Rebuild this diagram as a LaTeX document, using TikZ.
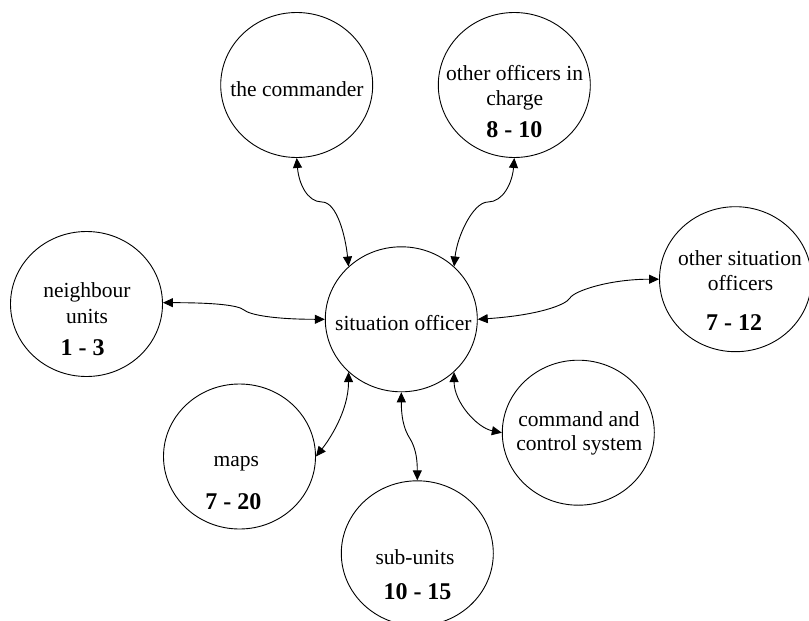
\documentclass[tikz,border=0pt]{standalone}
\usepackage{fontspec}
\setmainfont{Liberation Serif}
\usetikzlibrary{shapes.geometric,arrows.meta}

\tikzset{
  party/.style={draw, ellipse, line width=0.9pt, minimum width=152pt,
    minimum height=145pt, inner sep=0pt},
  lbl/.style={anchor=base, inner sep=0pt,
    font=\fontsize{21.5pt}{24pt}\selectfont},
  num/.style={anchor=base, inner sep=0pt,
    font=\fontsize{24pt}{28pt}\selectfont\bfseries},
  link/.style={draw, line width=0.9pt, <->,
    >={Triangle[length=10pt,width=9pt]}}
}

\begin{document}
\begin{tikzpicture}[x=1pt,y=-1pt]
  \useasboundingbox (0,0) rectangle (809,621);
  \clip (0,0) rectangle (809,621);

  % the circles
  \node[party] (cmd)  at (296.7,85)    {};
  \node[party] (ooc)  at (514.3,85)    {};
  \node[party] (nbr)  at (86.5,304)    {};
  \node[party] (sit)  at (401.3,319.3) {};
  \node[party] (oso)  at (735.5,279.2) {};
  \node[party] (ccs)  at (578.3,432.7) {};
  \node[party] (maps) at (239.5,456.5) {};
  \node[party] (sub)  at (417.3,553.3) {};

  % their texts
  \node[lbl] (cmd-a)  at (297,96)    {the commander};
  \node[lbl] (ooc-a)  at (514.7,80)  {other officers in};
  \node[lbl] (ooc-b)  at (514.7,105) {charge};
  \node[num] (ooc-n)  at (514.3,137.3) {8 - 10};
  \node[lbl] (nbr-a)  at (87,297.7)  {neighbour};
  \node[lbl] (nbr-b)  at (87,323.3)  {units};
  \node[num] (nbr-n)  at (82.7,355.7) {1 - 3};
  \node[lbl] (sit-a)  at (403.3,330) {situation officer};
  \node[lbl] (oso-a)  at (740,265)   {other situation};
  \node[lbl] (oso-b)  at (740.5,290.7) {officers};
  \node[num] (oso-n)  at (734,330.7) {7 - 12};
  \node[lbl] (ccs-a)  at (579,426.7) {command and};
  \node[lbl] (ccs-b)  at (579.3,450.7) {control system};
  \node[lbl] (maps-a) at (236.3,466) {maps};
  \node[num] (maps-n) at (233.3,509.3) {7 - 20};
  \node[lbl] (sub-a)  at (415,564)   {sub-units};
  \node[num] (sub-n)  at (417.5,599.3) {10 - 15};

  % bends of the connectors
  \coordinate (k1) at (322,202);
  \coordinate (k2) at (488,202);
  \coordinate (k3) at (244,310);
  \coordinate (k4) at (570,298);
  \coordinate (k6) at (409,437);

  % connectors
  \draw[link] (cmd.270) .. controls +(2,25) and +(-15,0) .. (k1)
                        .. controls +(15,0) and +(-3,-30) .. (sit.135);
  \draw[link] (ooc.270) .. controls +(-2,25) and +(15,0) .. (k2)
                        .. controls +(-15,0) and +(3,-30) .. (sit.45);
  \draw[link] (nbr.1) .. controls +(50,0) and +(-6,-5) .. (k3)
                      .. controls +(6,5) and +(-50,0) .. (sit.180);
  \draw[link] (sit.0) .. controls +(60,-4) and +(-4,7) .. (k4)
                      .. controls +(4,-7) and +(-50,0) .. (oso.180);
  \draw[link] (sit.225) .. controls +(0,40) and +(12,-15) .. (maps.0);
  \draw[link] (sit.270) .. controls +(0,30) and +(-3,-5) .. (k6)
                        .. controls +(3,5) and +(0,-30) .. (sub.90);
  \draw[link] (sit.-45) .. controls +(0,30) and +(-25,-5) .. (ccs.180);
\end{tikzpicture}
\end{document}
